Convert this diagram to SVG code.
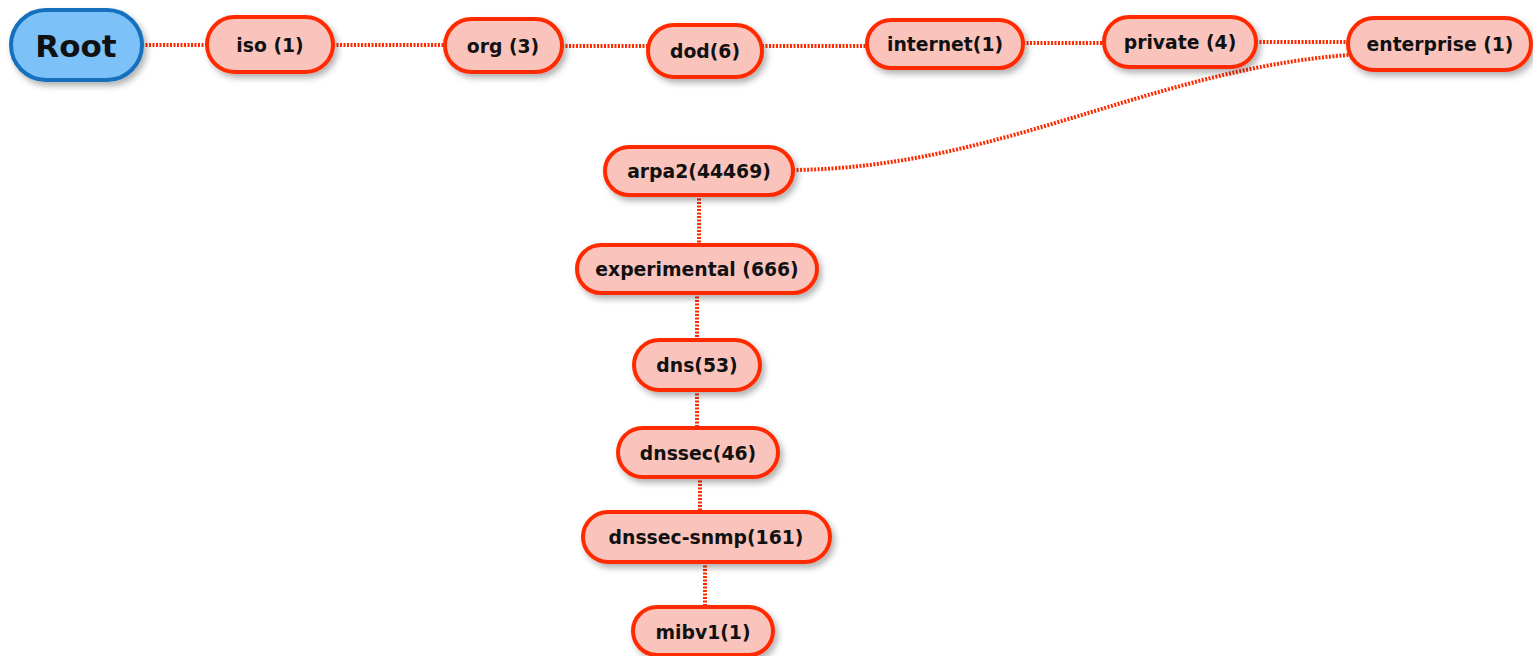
<svg xmlns="http://www.w3.org/2000/svg" width="1533" height="656" viewBox="0 0 1533 656">
<defs>
<filter id="sh" x="-20%" y="-30%" width="150%" height="180%">
<feDropShadow dx="3" dy="4" stdDeviation="3" flood-color="#000" flood-opacity="0.3"/>
</filter>
</defs>
<style>
.n rect{fill:#fac4bd;stroke:#ff2a00;stroke-width:4;filter:url(#sh)}
.r rect{fill:#7cc1f8;stroke:#1470bd;stroke-width:4;filter:url(#sh)}
text{font-family:"DejaVu Sans","Liberation Sans",sans-serif;font-weight:bold;fill:#111;text-anchor:middle;dominant-baseline:central}
.n text{font-size:18.8px}
.r text{font-size:31px}
.e path{fill:none;stroke:#ff2a00;stroke-width:4;stroke-dasharray:2 1.5}
</style>
<g class="e" id="edges">
<path d="M142,45 H207"/>
<path d="M333,45 H445"/>
<path d="M562,46 H648"/>
<path d="M762,46 H867"/>
<path d="M1023,43 H1105"/>
<path d="M1256,42 H1348"/>
<path d="M793,170 C1000,168 1150,70 1348,55"/>
<path d="M699,195 V245"/>
<path d="M697,293 V340"/>
<path d="M697,390 V428"/>
<path d="M700,477 V512"/>
<path d="M705,562 V607"/>
</g>
<g class="r" id="root"><rect x="11" y="10" width="131" height="70" rx="35"/><text x="76" y="46">Root</text></g>
<g class="n" id="iso"><rect x="207" y="17" width="126" height="55" rx="27.5"/><text x="270" y="45">iso (1)</text></g>
<g class="n" id="org"><rect x="445" y="19" width="117" height="53" rx="26.5"/><text x="503" y="46">org (3)</text></g>
<g class="n" id="dod"><rect x="648" y="25" width="114" height="52" rx="26"/><text x="705" y="51">dod(6)</text></g>
<g class="n" id="internet"><rect x="867" y="20" width="156" height="48" rx="24"/><text x="945" y="44">internet(1)</text></g>
<g class="n" id="private"><rect x="1104" y="17" width="152" height="50" rx="25"/><text x="1180" y="42">private (4)</text></g>
<g class="n" id="enterprise"><rect x="1348" y="18" width="183" height="52" rx="26"/><text x="1440" y="44">enterprise (1)</text></g>
<g class="n" id="arpa2"><rect x="605" y="147" width="188" height="48" rx="24"/><text x="699" y="171">arpa2(44469)</text></g>
<g class="n" id="experimental"><rect x="577" y="245" width="240" height="48" rx="24"/><text x="697" y="269">experimental (666)</text></g>
<g class="n" id="dns"><rect x="634" y="340" width="126" height="50" rx="25"/><text x="697" y="365">dns(53)</text></g>
<g class="n" id="dnssec"><rect x="618" y="428" width="160" height="49" rx="24.5"/><text x="698" y="453">dnssec(46)</text></g>
<g class="n" id="dnssec-snmp"><rect x="583" y="512" width="247" height="50" rx="25"/><text x="706" y="537">dnssec-snmp(161)</text></g>
<g class="n" id="mibv1"><rect x="633" y="607" width="140" height="48" rx="24"/><text x="703" y="632">mibv1(1)</text></g>
</svg>
